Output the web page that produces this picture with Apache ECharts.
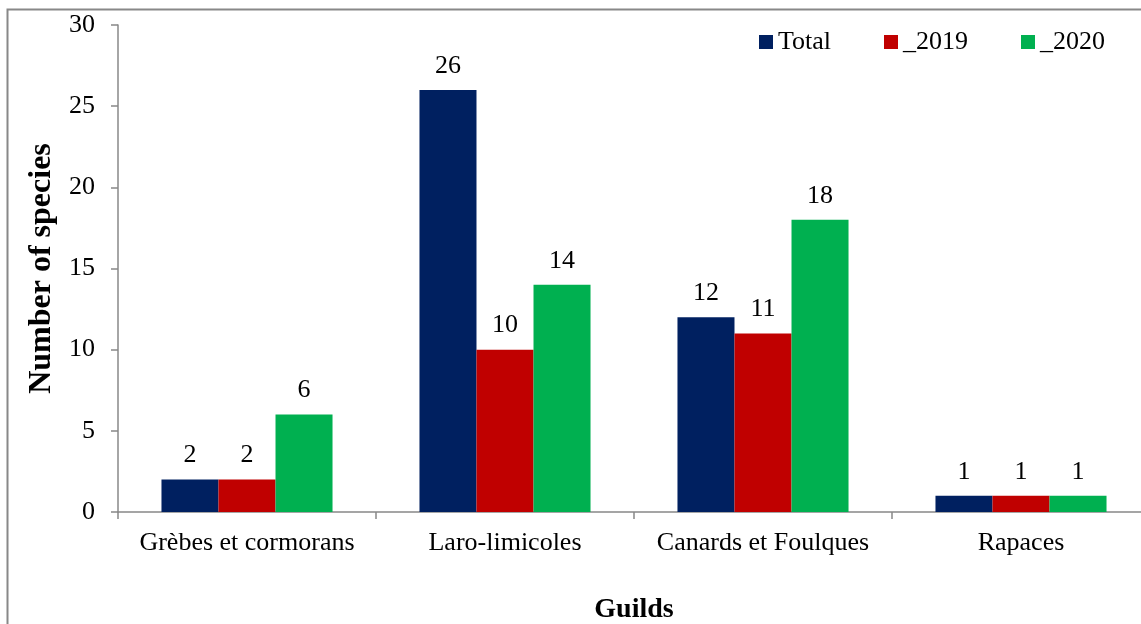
<!DOCTYPE html>
<html>
<head>
<meta charset="utf-8">
<script src="https://cdn.jsdelivr.net/npm/echarts@6/dist/echarts.min.js"></script>
<style>
  html, body { margin: 0; padding: 0; background: #fff; overflow: hidden; }
  #chart { width: 1160px; height: 624px; }
</style>
</head>
<body>
<div id="chart"></div>
<script>
// Guild categories and species counts per series
const guilds = ['Grèbes et cormorans', 'Laro-limicoles', 'Canards et Foulques', 'Rapaces'];
const totalValues = [2, 26, 12, 1];
const values2019 = [2, 10, 11, 1];
const values2020 = [6, 14, 18, 1];
const seriesNames = ['Total', '_2019', '_2020'];
const seriesColors = ['#002060', '#C00000', '#00B050'];
const yTicks = { min: 0, max: 30, interval: 5 };

const FONT = '"Liberation Serif", "Times New Roman", serif';
const AXIS_GRAY = '#888888';

const chart = echarts.init(document.getElementById('chart'), null, { renderer: 'canvas' });

const seriesData = [totalValues, values2019, values2020];
const legendLefts = [759, 884, 1021];

const option = {
  backgroundColor: '#ffffff',
  animation: false,
  textStyle: { fontFamily: FONT },
  graphic: [{
    type: 'rect',
    shape: { x: 7.5, y: 9.5, width: 1300, height: 800 },
    style: { fill: 'none', stroke: AXIS_GRAY, lineWidth: 2 },
    silent: true,
    z: -10
  }],
  legend: seriesNames.map((name, i) => ({
    data: [name],
    left: legendLefts[i],
    top: 29,
    padding: 0,
    itemWidth: 14,
    itemHeight: 14,
    itemGap: 5,
    icon: 'rect',
    textStyle: { fontFamily: FONT, fontSize: 26, color: '#000' }
  })),
  grid: { left: 118, top: 25, width: 1032, height: 487, outerBoundsMode: 'none', containLabel: false },
  xAxis: {
    type: 'category',
    data: guilds,
    name: 'Guilds',
    nameLocation: 'middle',
    nameGap: 84,
    nameTextStyle: { fontFamily: FONT, fontSize: 28, fontWeight: 'bold', color: '#000' },
    axisLine: { lineStyle: { color: AXIS_GRAY, width: 1.5 } },
    axisTick: { show: true, length: 7, lineStyle: { color: AXIS_GRAY, width: 1.5 } },
    axisLabel: { interval: 0, fontFamily: FONT, fontSize: 26, color: '#000', margin: 18 }
  },
  yAxis: {
    type: 'value',
    min: yTicks.min,
    max: yTicks.max,
    interval: yTicks.interval,
    name: 'Number of species',
    nameLocation: 'middle',
    nameGap: 57,
    nameTextStyle: { fontFamily: FONT, fontSize: 32, fontWeight: 'bold', color: '#000' },
    axisLine: { show: true, lineStyle: { color: AXIS_GRAY, width: 1.5 } },
    axisTick: { show: true, length: 7, lineStyle: { color: AXIS_GRAY, width: 1.5 } },
    splitLine: { show: false },
    axisLabel: { fontFamily: FONT, fontSize: 26, color: '#000', margin: 23 }
  },
  series: seriesNames.map((name, i) => ({
    name: name,
    type: 'bar',
    data: seriesData[i],
    barGap: '0%',
    barCategoryGap: '33.7%',
    itemStyle: { color: seriesColors[i] },
    label: {
      show: true,
      position: 'top',
      distance: 11,
      fontFamily: FONT,
      fontSize: 26,
      color: '#000'
    }
  }))
};

chart.setOption(option);
</script>
</body>
</html>
